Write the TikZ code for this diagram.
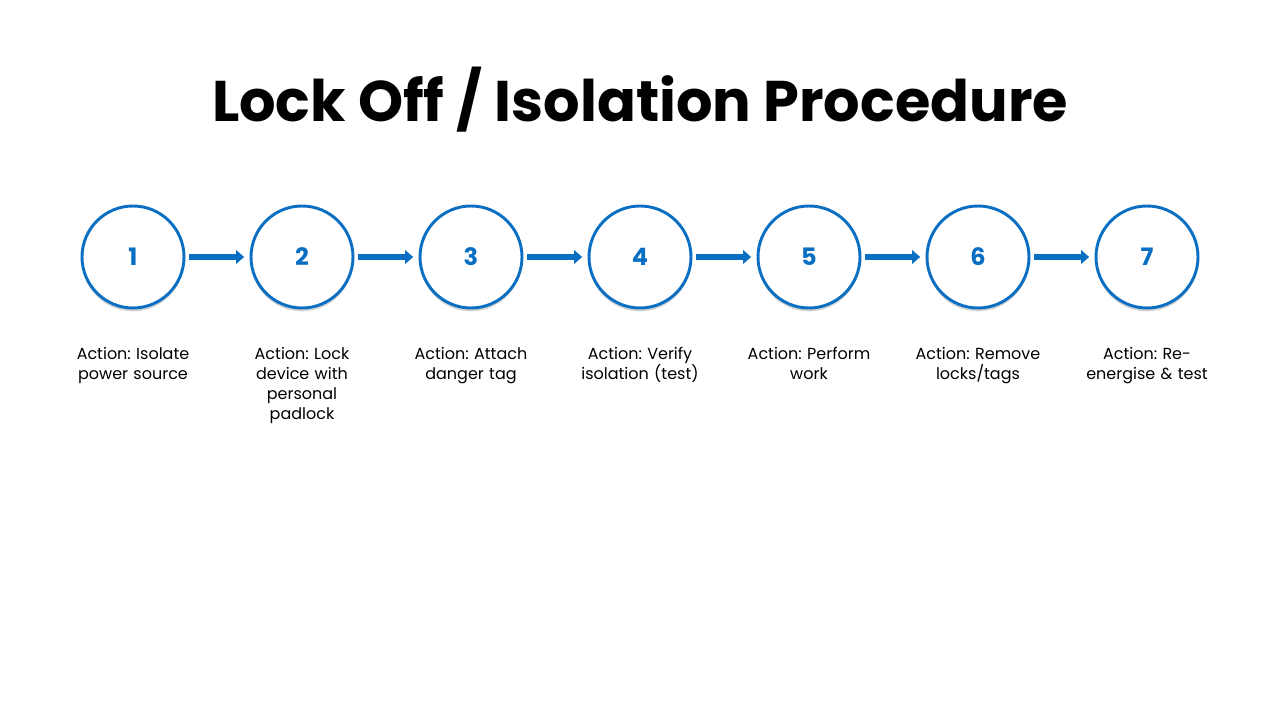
\documentclass[tikz,border=0pt]{standalone}
\usepackage{fontspec}
\setmainfont{Poppins}
\frenchspacing
\usetikzlibrary{positioning,shadows,arrows.meta}
\definecolor{stepblue}{HTML}{0A6FC2}
\tikzset{
  stage/.style={circle,draw=stepblue,line width=2.2pt,fill=white,minimum size=76.5pt,
    text=stepblue,font=\fontsize{18}{20}\selectfont\bfseries,
    drop shadow={shadow xshift=0pt,shadow yshift=-2.5pt,opacity=.35,fill=gray}},
  flow/.style={-{Triangle[length=6pt,width=10pt]},line width=4.5pt,stepblue,shorten <=3pt,shorten >=4pt},
  action/.style={below=25pt,align=center,text width=100pt,font=\fontsize{12}{15}\selectfont}
}
\begin{document}
\begin{tikzpicture}[x=0.75pt,y=-0.75pt]
\useasboundingbox (0,0) rectangle (1280,720);
\node[font=\fontsize{43}{46}\selectfont\bfseries] (title) at (640,100) {Lock Off / Isolation Procedure};
\foreach \n/\txt [count=\i] in {1/{Action: Isolate\\power source},2/{Action: Lock\\device with\\personal\\padlock},
  3/{Action: Attach\\danger tag},4/{Action: Verify\\isolation (test)},5/{Action: Perform\\work},
  6/{Action: Remove\\locks/tags},7/{Action: Re-\\energise \& test}}{
  \node[stage] (s\n) at ({133+169*(\i-1)},257) {\n};
  \node[action] (a\n) at (s\n.south) {\txt};
}
\foreach \a/\b in {1/2,2/3,3/4,4/5,5/6,6/7}
  \draw[flow] (s\a) -- (s\b);
\end{tikzpicture}
\end{document}
